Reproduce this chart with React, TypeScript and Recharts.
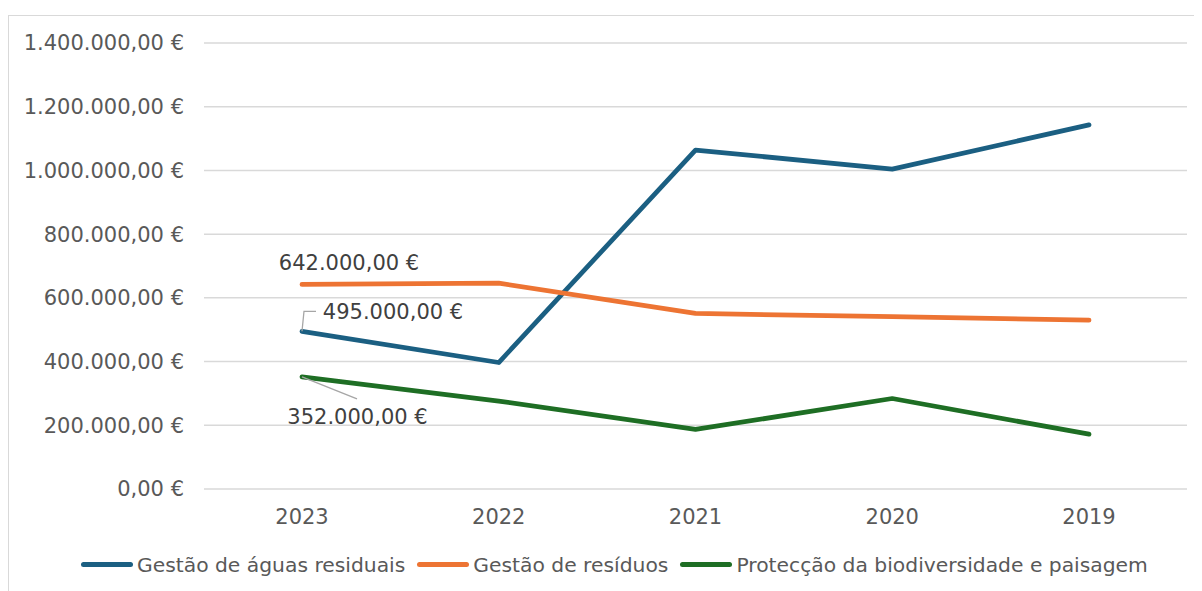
import React from 'react';
import { LineChart, Line, XAxis, YAxis, CartesianGrid, LabelList } from 'recharts';

const years = ['2023', '2022', '2021', '2020', '2019'];
const aguasResiduais = [495000, 397000, 1064000, 1004000, 1143000];
const residuos = [642000, 646000, 551000, 541000, 530000];
const biodiversidade = [352000, 276000, 187000, 284000, 172000];
const yTicks = [0, 200000, 400000, 600000, 800000, 1000000, 1200000, 1400000];
const seriesKeys = ['aguas', 'residuos', 'bio'];
const seriesNames = [
  'Gestão de águas residuais',
  'Gestão de resíduos',
  'Protecção da biodiversidade e paisagem',
];
const seriesColors = ['#1b5f82', '#ed7433', '#1e6e24'];

const data = years.map((y, i) => ({
  year: y,
  aguas: aguasResiduais[i],
  residuos: residuos[i],
  bio: biodiversidade[i],
}));

const FONT = '"DejaVu Sans", Verdana, sans-serif';
const FS = 21;

function fmt(v: number): string {
  const int = Math.round(v)
    .toString()
    .replace(/\B(?=(\d{3})+(?!\d))/g, '.');
  return `${int},00 €`;
}

type LabelKind = 'aguas' | 'residuos' | 'bio';

const makeLabel = (kind: LabelKind) => (props: any) => {
  const { index, value } = props;
  const x = props.x ?? props.viewBox?.x;
  const y = props.y ?? props.viewBox?.y;
  if (index !== 0 || x == null || y == null) return <g />;
  const txt = fmt(Number(value));
  const common = {
    fontFamily: FONT,
    fontSize: FS,
    fill: '#404040',
    textAnchor: 'middle' as const,
    dy: '0.355em',
  };
  if (kind === 'residuos') {
    return (
      <g>
        <text x={x + 47} y={y - 22} {...common}>
          {txt}
        </text>
      </g>
    );
  }
  if (kind === 'aguas') {
    return (
      <g>
        <path
          d={`M${x},${y} L${x + 2},${y - 20} L${x + 14},${y - 20}`}
          stroke="#a6a6a6"
          strokeWidth={1.3}
          fill="none"
        />
        <text x={x + 91} y={y - 19.5} {...common}>
          {txt}
        </text>
      </g>
    );
  }
  return (
    <g>
      <path
        d={`M${x},${y} L${x + 55},${y + 22}`}
        stroke="#a6a6a6"
        strokeWidth={1.3}
        fill="none"
      />
      <text x={x + 55.5} y={y + 39.5} {...common}>
        {txt}
      </text>
    </g>
  );
};

export default function App() {
  return (
    <div style={{ position: 'relative', width: 1202, height: 591 }}>
      <div
        style={{
          position: 'absolute',
          left: 0,
          top: 7,
          width: 1300,
          height: 700,
          border: '1px solid #d9d9d9',
          boxSizing: 'border-box',
        }}
      />
      <div style={{ position: 'absolute', left: -8, top: -8 }}>
        <LineChart
          width={1202}
          height={591}
          data={data}
          margin={{ top: 43, right: 15, left: 0, bottom: 72 }}
        >
          <CartesianGrid vertical={false} stroke="#d9d9d9" strokeWidth={1.5} />
          <XAxis
            dataKey="year"
            height={30}
            axisLine={false}
            tickLine={false}
            tickSize={0}
            tickMargin={20}
            padding={{ left: 98, right: 98 }}
            tick={{ fontFamily: FONT, fontSize: FS, fill: '#595959' }}
          />
          <YAxis
            width={204}
            domain={[0, 1400000]}
            ticks={yTicks}
            axisLine={false}
            tickLine={false}
            tickSize={0}
            tickMargin={20}
            tickFormatter={(v: number) => fmt(v)}
            tick={{ fontFamily: FONT, fontSize: FS, fill: '#595959' }}
          />
          {seriesKeys.map((k, i) => (
            <Line
              key={k}
              type="linear"
              dataKey={k}
              stroke={seriesColors[i]}
              strokeWidth={4.75}
              strokeLinecap="round"
              strokeLinejoin="round"
              dot={false}
              activeDot={false}
              isAnimationActive={false}
            >
              <LabelList dataKey={k} content={makeLabel(k as LabelKind)} />
            </Line>
          ))}
        </LineChart>
      </div>
      <div
        style={{
          position: 'absolute',
          left: 73,
          top: 544,
          height: 25,
          display: 'flex',
          alignItems: 'center',
          fontFamily: FONT,
          fontSize: 20.3,
          color: '#595959',
          whiteSpace: 'nowrap',
        }}
      >
        {seriesNames.map((n, i) => (
          <div
            key={n}
            style={{ display: 'flex', alignItems: 'center', marginRight: 12 }}
          >
            <div
              style={{
                width: 52,
                height: 5,
                borderRadius: 3,
                background: seriesColors[i],
                marginRight: 4,
              }}
            />
            <span>{n}</span>
          </div>
        ))}
      </div>
    </div>
  );
}
